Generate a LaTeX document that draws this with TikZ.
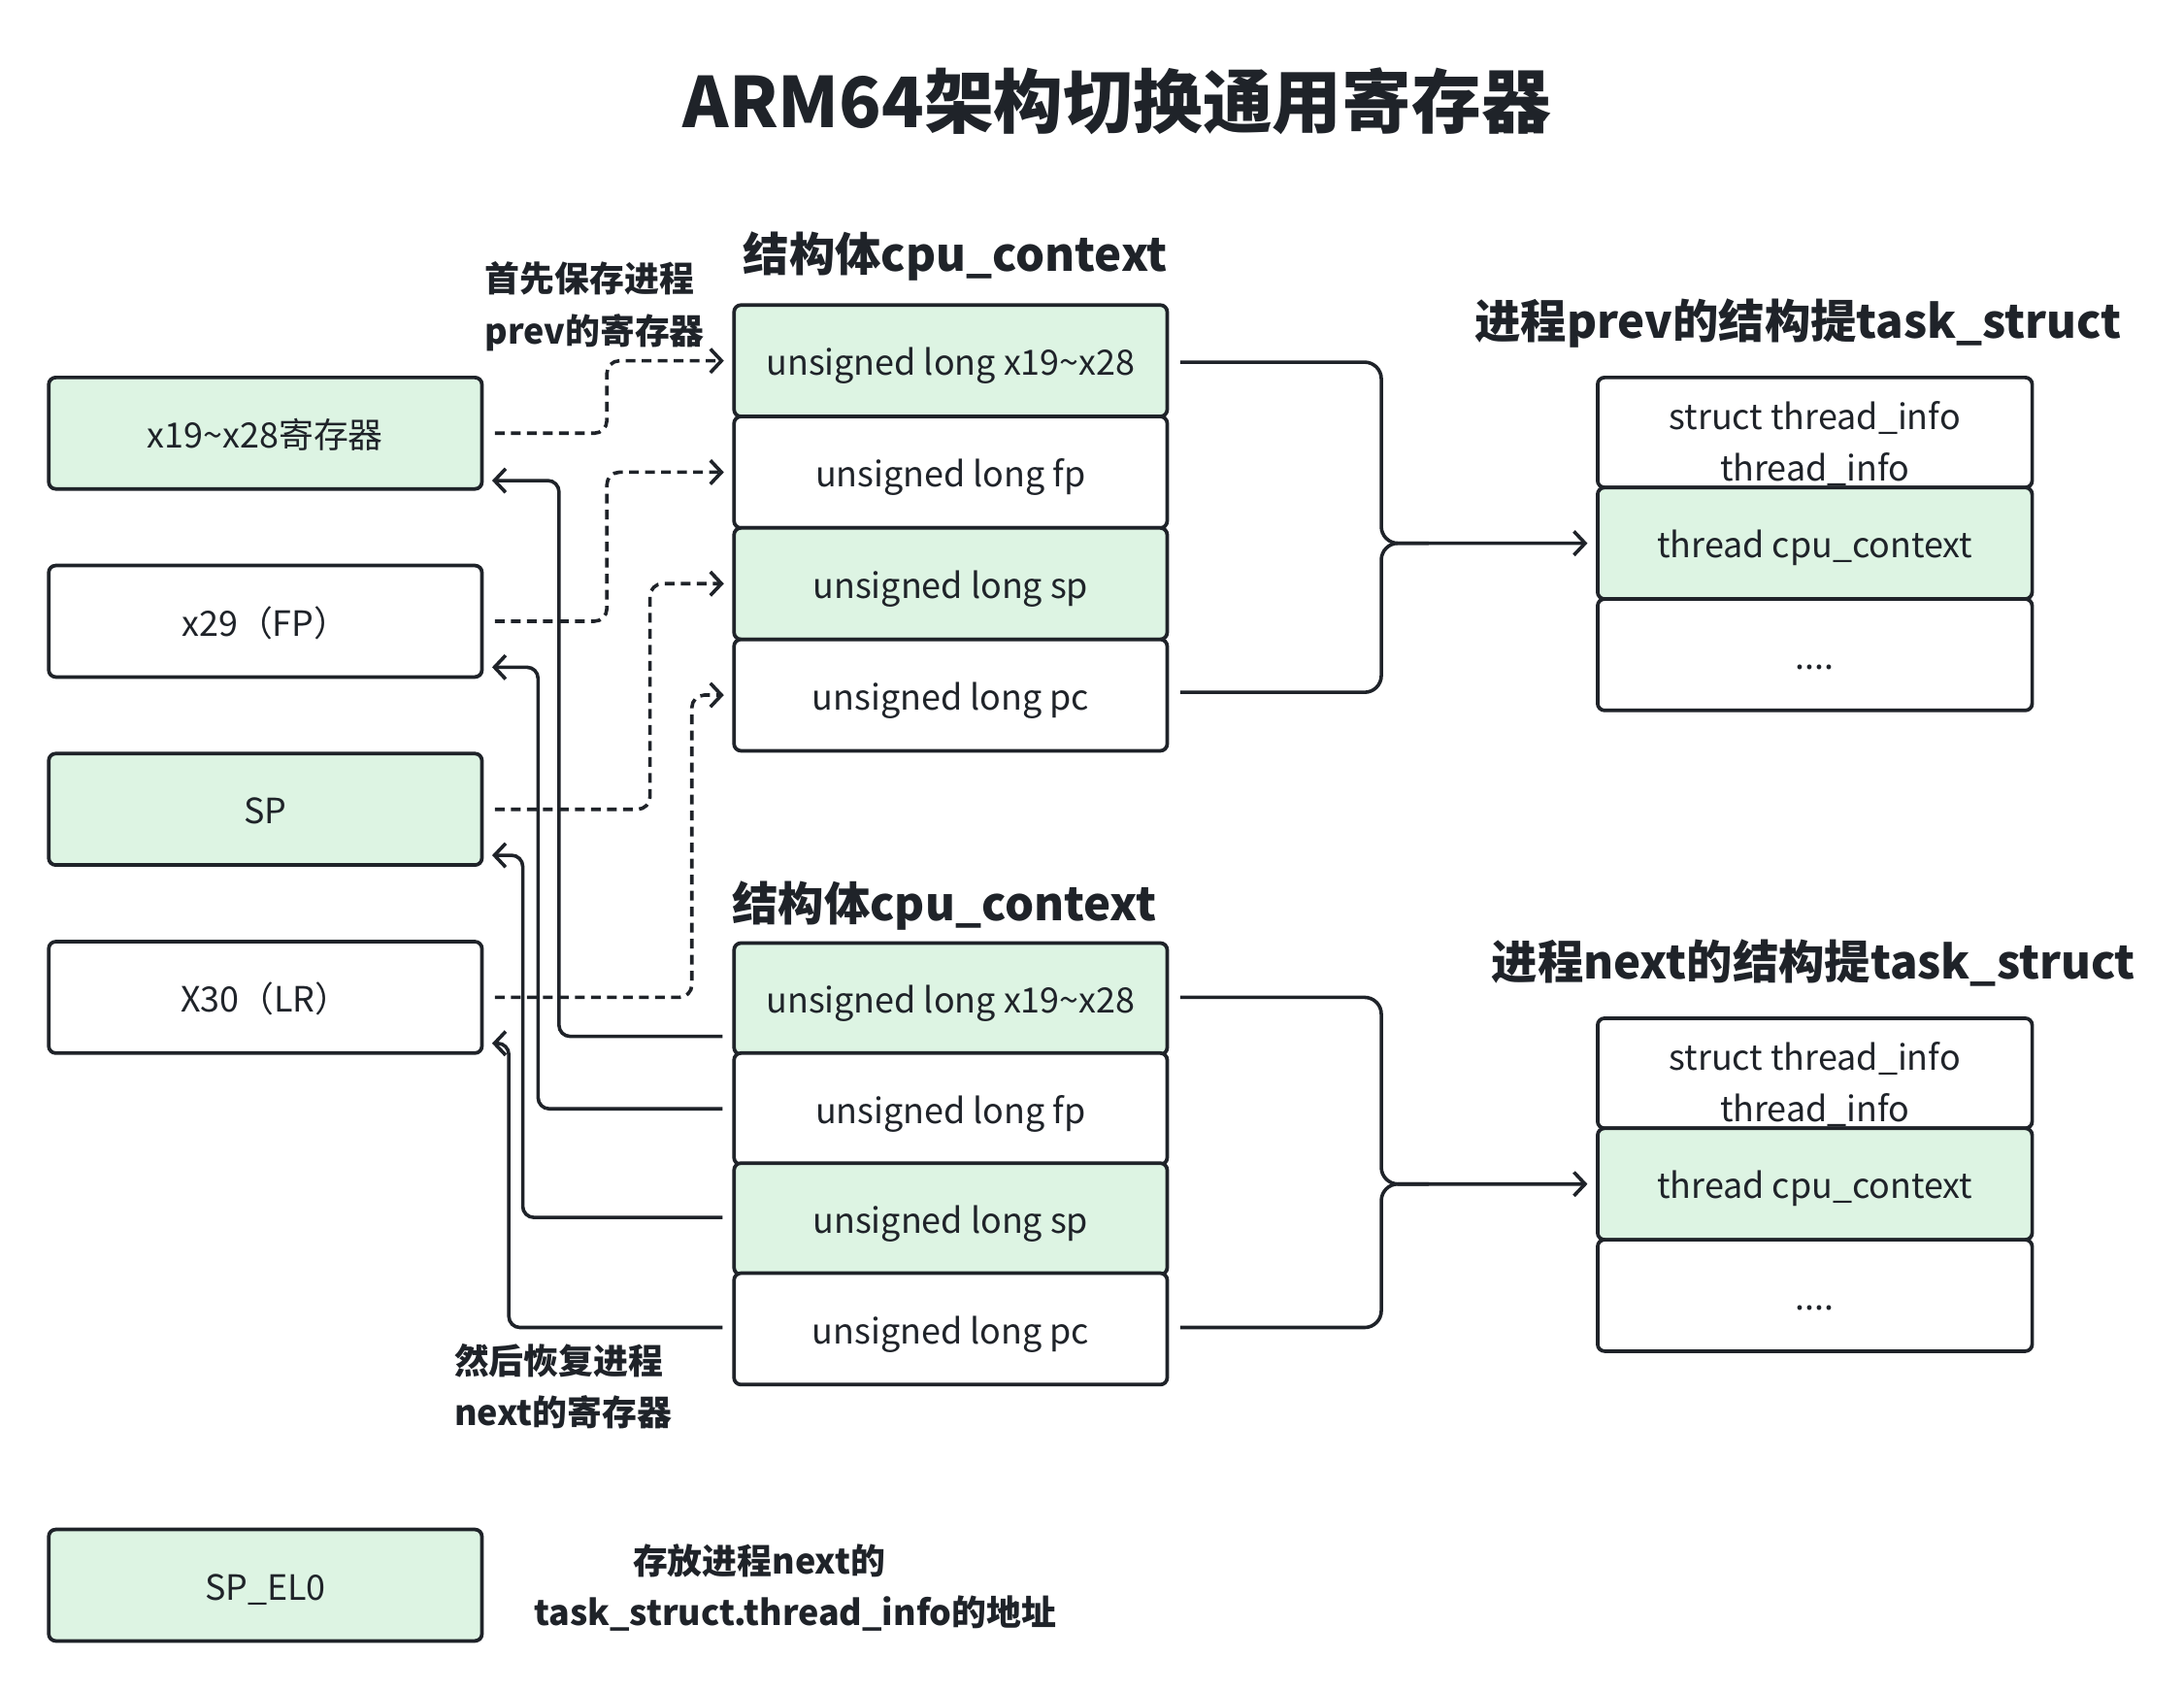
\documentclass[tikz,border=0pt]{standalone}
\usepackage{fontspec}
\setmainfont{Noto Sans CJK SC}
\usetikzlibrary{arrows.meta,calc}
\definecolor{ink}{HTML}{1F2329}
\definecolor{mint}{HTML}{DDF4E3}
\newcommand{\twolines}[2]{\raisebox{-15pt}[0pt][0pt]{\begin{tabular}{@{}c@{}}#1\\#2\end{tabular}}}
\begin{document}
\begin{tikzpicture}[x=1pt,y=-1pt,
  box/.style={draw=ink, line width=2.6pt, rounded corners=5pt, minimum width=311pt, minimum height=80pt, inner sep=0pt, text=ink, font=\fontsize{25}{37}\selectfont, text height=22pt, text depth=1pt},
  gbox/.style={box, fill=mint},
  wbox/.style={box, fill=white},
  twobox/.style={wbox, text height=, text depth=, minimum width=312pt, minimum height=79pt},
  conn/.style={draw=ink, line width=2.5pt, -{Straight Barb[length=8pt,width=17pt]}},
  dconn/.style={conn, dash pattern=on 7pt off 4.5pt, rounded corners=9pt},
  sconn/.style={conn, rounded corners=8pt},
  bconn/.style={conn, rounded corners=12pt},
  plain/.style={draw=ink, line width=2.5pt, rounded corners=12pt},
  head/.style={text=ink, font=\fontsize{33}{40}\bfseries\selectfont, inner sep=0pt},
  note/.style={text=ink, font=\fontsize{25}{37}\bfseries\selectfont, inner sep=0pt, align=left}
]
\useasboundingbox[fill=white] (0,0) rectangle (1568,1214);

% title
\node[text=ink, font=\fontsize{50}{60}\bfseries\selectfont, inner sep=0pt] (title) at (802,73) {ARM64架构切换通用寄存器};

% left registers
\node[gbox] (L1) at (190.5,311) {x19\textasciitilde x28寄存器};
\node[wbox] (L2) at (190.5,446) {x29（FP）};
\node[gbox] (L3) at (190.5,581) {SP};
\node[wbox] (L4) at (190.5,716) {X30（LR）};
\node[gbox] (L5) at (190.5,1138) {SP\_EL0};

% top cpu_context
\node[head] (h1) at (686,184) {结构体cpu\_context};
\node[gbox] (T1) at (682.5,259) {unsigned long x19\textasciitilde x28};
\node[wbox] (T2) at (682.5,339) {unsigned long fp};
\node[gbox] (T3) at (682.5,419) {unsigned long sp};
\node[wbox] (T4) at (682.5,499) {unsigned long pc};

% bottom cpu_context
\node[head] (h2) at (678,650) {结构体cpu\_context};
\node[gbox] (B1) at (682.5,717) {unsigned long x19\textasciitilde x28};
\node[wbox] (B2) at (682.5,796) {unsigned long fp};
\node[gbox] (B3) at (682.5,875) {unsigned long sp};
\node[wbox] (B4) at (682.5,954) {unsigned long pc};

% prev task_struct
\node[head] (h3) at (1291,232) {进程prev的结构提task\_struct};
\node[twobox] (P1) at (1303,310.5) {\twolines{struct thread\_info}{thread\_info}};
\node[gbox, minimum width=312pt] (P2) at (1303,390) {thread cpu\_context};
\node[wbox, minimum width=312pt] (P3) at (1303,470) {....};

% next task_struct
\node[head] (h4) at (1302,691) {进程next的结构提task\_struct};
\node[twobox] (N1) at (1303,770.5) {\twolines{struct thread\_info}{thread\_info}};
\node[gbox, minimum width=312pt] (N2) at (1303,850) {thread cpu\_context};
\node[wbox, minimum width=312pt] (N3) at (1303,930) {....};

% notes
\node[note, anchor=west] (n1) at (348,220) {首先保存进程\\prev的寄存器};
\node[note, anchor=west] (n2) at (326,995) {然后恢复进程\\next的寄存器};
\node[note, align=center] (n3) at (571,1140) {存放进程next的\hspace*{52pt}\\task\_struct.thread\_info的地址};

% save prev (dashed)
\draw[dconn] ($(L1.east)+(8,0)$) -| ($(T1.west)+(-90,0)$) -- ($(T1.west)+(-6,0)$);
\draw[dconn] ($(L2.east)+(8,0)$) -| ($(T2.west)+(-90,0)$) -- ($(T2.west)+(-6,0)$);
\draw[dconn] ($(L3.east)+(8,0)$) -| ($(T3.west)+(-59,0)$) -- ($(T3.west)+(-6,0)$);
\draw[dconn] ($(L4.east)+(8,0)$) -| ($(T4.west)+(-29,0)$) -- ($(T4.west)+(-6,0)$);

% restore next (solid)
\draw[sconn] ($(B1.west)+(-7,27)$) -| ($(L1.east)+(54,34)$) -- ($(L1.east)+(6,34)$);
\draw[sconn] ($(B2.west)+(-7,0)$) -| ($(L2.east)+(39,33)$) -- ($(L2.east)+(6,33)$);
\draw[sconn] ($(B3.west)+(-7,-1)$) -| ($(L3.east)+(28,33)$) -- ($(L3.east)+(6,33)$);
\draw[sconn] ($(B4.west)+(-7,-1)$) -| ($(L4.east)+(18,33)$) -- ($(L4.east)+(6,33)$);

% braces to task_struct
\draw[bconn] ($(T1.east)+(8,1)$) -| ($(P2.west)+(-154,0)$) -- ($(P2.west)+(-6,0)$);
\draw[plain] ($(T4.east)+(8,-2)$) -| ($(P2.west)+(-154,0)$) -- ($(P2.west)+(-120,0)$);
\draw[bconn] ($(B1.east)+(8,-1)$) -| ($(N2.west)+(-154,0)$) -- ($(N2.west)+(-6,0)$);
\draw[plain] ($(B4.east)+(8,-1)$) -| ($(N2.west)+(-154,0)$) -- ($(N2.west)+(-120,0)$);
\end{tikzpicture}
\end{document}
